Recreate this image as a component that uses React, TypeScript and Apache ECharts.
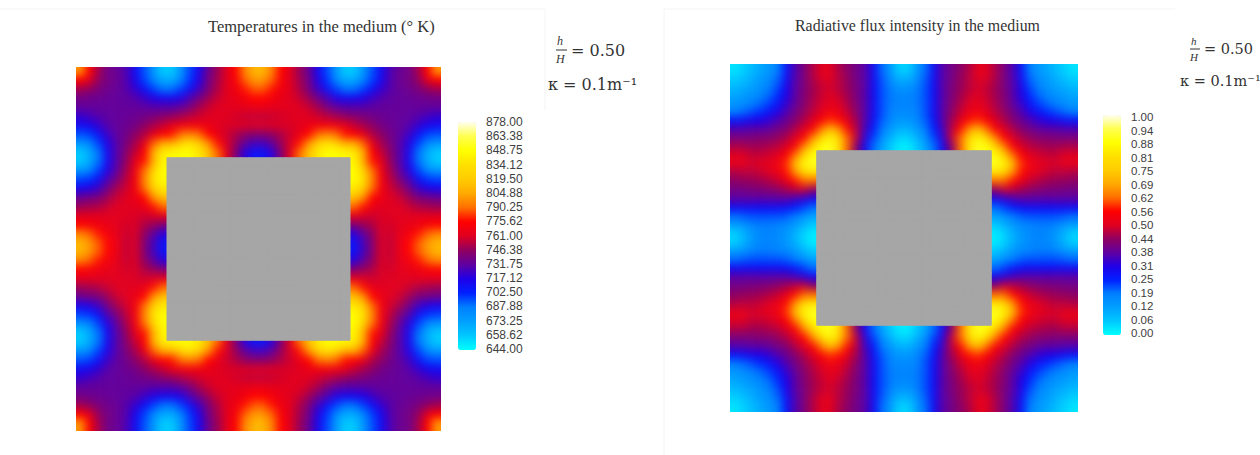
import React, { useEffect, useRef } from "react";
import * as echarts from "echarts";

// Upper-left quadrant of each field. Rows 10-19 stop at the obstacle.
const tempQuadrant: number[][] = [
  [800,775,750,737,735,728,712,695,678,658,658,678,697,715,735,748,762,775,795,810],
  [775,762,746,738,735,729,715,698,684,670,670,684,700,718,738,750,762,772,788,800],
  [750,746,740,736,734,730,722,710,698,690,690,698,710,725,740,752,762,768,778,787],
  [737,736,735,734,733,732,730,724,718,714,714,718,728,738,749,757,762,765,770,775],
  [733,733,733,733,733,733,733,732,730,730,730,733,740,750,757,761,762,763,764,766],
  [722,726,730,732,733,734,735,737,740,743,746,750,754,758,761,762,761,759,757,756],
  [712,715,722,730,733,735,738,745,750,756,764,768,770,769,766,762,760,760,760,760],
  [695,698,710,724,732,737,745,752,765,775,778,790,795,790,776,766,758,752,746,743],
  [678,684,698,718,730,740,750,765,788,808,808,825,835,822,800,778,760,748,733,726],
  [658,670,690,714,730,743,756,775,808,840,845,848,848,838,815,790,764,742,720,708],
  [658,670,690,714,730,746,764,778,808,845],
  [678,684,698,718,733,750,768,790,825,848],
  [697,700,710,728,740,754,770,795,835,848],
  [715,718,725,738,750,758,769,790,822,838],
  [735,738,740,749,757,761,766,776,800,815],
  [748,750,752,757,761,762,762,766,778,790],
  [762,762,762,762,762,761,760,758,760,764],
  [775,772,768,765,763,759,760,752,748,742],
  [795,788,778,770,764,757,760,746,733,720],
  [810,800,787,775,766,756,760,743,726,708],
];
const fluxQuadrant: number[][] = [
  [.03,.05,.08,.11,.14,.18,.27,.36,.41,.46,.50,.51,.46,.43,.40,.37,.29,.20,.13,.05],
  [.05,.07,.10,.13,.16,.20,.28,.36,.41,.46,.50,.51,.47,.44,.40,.37,.29,.21,.15,.09],
  [.08,.10,.12,.15,.18,.22,.30,.37,.41,.45,.48,.49,.47,.44,.41,.37,.29,.22,.18,.14],
  [.11,.13,.15,.17,.20,.24,.31,.37,.42,.45,.48,.50,.48,.45,.41,.37,.29,.22,.19,.17],
  [.14,.16,.18,.20,.23,.27,.33,.38,.42,.46,.49,.51,.50,.46,.42,.37,.29,.22,.19,.18],
  [.18,.20,.22,.24,.27,.31,.36,.40,.44,.47,.51,.53,.52,.48,.43,.37,.29,.22,.18,.17],
  [.27,.28,.30,.31,.33,.36,.39,.42,.46,.50,.55,.59,.57,.51,.45,.37,.28,.21,.17,.14],
  [.36,.36,.37,.37,.38,.40,.42,.46,.50,.55,.63,.72,.66,.57,.47,.35,.26,.19,.14,.10],
  [.41,.41,.41,.42,.42,.44,.46,.50,.56,.65,.78,.85,.78,.62,.48,.33,.23,.16,.10,.05],
  [.46,.46,.45,.45,.46,.47,.50,.55,.65,.78,.88,.90,.82,.62,.43,.30,.20,.12,.06,.02],
  [.50,.50,.48,.48,.49,.51,.55,.63,.78,.88],
  [.51,.51,.49,.50,.51,.53,.59,.72,.85,.90],
  [.46,.47,.47,.48,.50,.52,.57,.66,.78,.82],
  [.43,.44,.44,.45,.46,.48,.51,.57,.62,.62],
  [.40,.40,.41,.41,.42,.43,.45,.47,.48,.43],
  [.37,.37,.37,.37,.37,.37,.37,.35,.33,.30],
  [.29,.29,.29,.29,.29,.29,.28,.26,.23,.20],
  [.20,.21,.22,.22,.22,.22,.21,.19,.16,.12],
  [.13,.15,.18,.19,.19,.18,.17,.14,.10,.06],
  [.05,.09,.14,.17,.18,.17,.14,.10,.05,.02],
];
const tempTicks = ["644.00","658.62","673.25","687.88","702.50","717.12","731.75","746.38","761.00","775.62","790.25","804.88","819.50","834.12","848.75","863.38","878.00"];
const fluxTicks = ["0.00","0.06","0.12","0.19","0.25","0.31","0.38","0.44","0.50","0.56","0.62","0.69","0.75","0.81","0.88","0.94","1.00"];
const ramp = ["#00ffff","#00c8ff","#00a0ff","#0080ff","#0020ff","#2000e8","#6000a0","#900060","#e00020","#ff0000","#ff7000","#ffaa00","#ffcc00","#ffe000","#ffff00","#ffff50","#fffff0"];

const CELLS = 40;
const PAD = 3; // cells repeated past each edge so that the soft layer stays solid up to the plot's edge
const ids = (n: number) => Array.from({ length: n }, (_, i) => String(i));

function fieldCells(q: number[][]) {
  const out: number[][] = [];
  for (let r = -PAD; r < CELLS + PAD; r++) {
    for (let c = -PAD; c < CELLS + PAD; c++) {
      const a = Math.max(0, Math.min(r, CELLS - 1));
      const b = Math.max(0, Math.min(c, CELLS - 1));
      let qr = a < 20 ? a : 39 - a;
      let qc = b < 20 ? b : 39 - b;
      if (q[qr][qc] === undefined) { if (qc >= qr) qr = 9; else qc = 9; }
      out.push([c + PAD, r + PAD, q[qr][qc]]);
    }
  }
  return out;
}
function holeCells(q: number[][]) {
  const out: number[][] = [];
  for (let r = 0; r < CELLS; r++) {
    for (let c = 0; c < CELLS; c++) {
      if (q[r < 20 ? r : 39 - r][c < 20 ? c : 39 - c] === undefined) out.push([c, r, 1]);
    }
  }
  return out;
}

const serif = "'Liberation Serif', serif";
const mathFont = "'DejaVu Serif', serif";
const holeStyle = { borderColor: "#a6a6a6", borderWidth: 1 };

export default function App() {
  const softRef = useRef<HTMLDivElement>(null);
  const topRef = useRef<HTMLDivElement>(null);
  useEffect(() => {
    document.body.style.margin = "0";
    const soft = echarts.init(softRef.current!, undefined, { renderer: "svg" });
    const top = echarts.init(topRef.current!, undefined, { renderer: "svg" });
    const cat = (gridIndex: number, n: number, inverse = false) => ({
      type: "category" as const, gridIndex, data: ids(n), show: false, inverse,
    });
    const padded = (left: number, topPx: number, w: number, h: number) => {
      const cw = w / CELLS, ch = h / CELLS;
      return { left: left - PAD * cw, top: topPx - PAD * ch, width: cw * (CELLS + 2 * PAD), height: ch * (CELLS + 2 * PAD) };
    };
    const N = CELLS + 2 * PAD;
    soft.setOption({
      animation: false,
      grid: [padded(76, 67, 365, 364), padded(730, 64, 348, 348)],
      xAxis: [cat(0, N), cat(1, N)],
      yAxis: [cat(0, N, true), cat(1, N, true)],
      visualMap: [
        { type: "continuous", seriesIndex: 0, min: 644, max: 878, show: false, inRange: { color: ramp } },
        { type: "continuous", seriesIndex: 1, min: 0, max: 1, show: false, inRange: { color: ramp } },
      ],
      series: [
        { type: "heatmap", xAxisIndex: 0, yAxisIndex: 0, data: fieldCells(tempQuadrant) },
        { type: "heatmap", xAxisIndex: 1, yAxisIndex: 1, data: fieldCells(fluxQuadrant) },
      ],
    });
    const tickAxis = (gridIndex: number, data: string[], fontSize: number) => ({
      type: "category" as const, gridIndex, data, position: "right" as const, boundaryGap: false,
      axisLine: { show: false }, axisTick: { show: false }, splitLine: { show: false },
      axisLabel: { interval: 0, margin: 10, fontSize, color: "#404040", fontFamily: "'Liberation Sans', Arial, sans-serif" },
    });
    const note = (x: number, y: number, text: string, fontSize = 15, font = mathFont, fontStyle = "normal") => ({
      type: "text", x, y, style: { text, fontSize, fontFamily: font, fontStyle, fill: "#333", textVerticalAlign: "middle" },
    });
    top.setOption({
      animation: false,
      title: [
        { text: "Temperatures in the medium (° K)", left: 208, top: 18, padding: 0, textStyle: { fontFamily: serif, fontWeight: "normal", fontSize: 16.5, color: "#333" } },
        { text: "Radiative flux intensity in the medium", left: 795, top: 17, padding: 0, textStyle: { fontFamily: serif, fontWeight: "normal", fontSize: 15.9, color: "#333" } },
      ],
      grid: [
        { left: 76, top: 67, width: 365, height: 364 },
        { left: 730, top: 64, width: 348, height: 348 },
        { left: 458, top: 122, width: 18, height: 227 },
        { left: 1103, top: 117, width: 18, height: 216 },
      ],
      xAxis: [cat(0, CELLS), cat(1, CELLS), { type: "value", gridIndex: 2, show: false }, { type: "value", gridIndex: 3, show: false }],
      yAxis: [cat(0, CELLS, true), cat(1, CELLS, true), tickAxis(2, tempTicks, 12), tickAxis(3, fluxTicks, 11.5)],
      visualMap: [
        { type: "continuous", seriesIndex: [], min: 644, max: 878, left: 458, top: 122, itemWidth: 18, itemHeight: 228, padding: 0, calculable: false, inRange: { color: ramp } },
        { type: "continuous", seriesIndex: [], min: 0, max: 1, left: 1103, top: 115, itemWidth: 18, itemHeight: 220, padding: 0, calculable: false, inRange: { color: ramp } },
        { type: "continuous", seriesIndex: [0, 1], min: 0, max: 1, show: false, inRange: { color: ["#a6a6a6", "#a6a6a6"] } },
      ],
      series: [
        { type: "heatmap", xAxisIndex: 0, yAxisIndex: 0, data: holeCells(tempQuadrant), itemStyle: holeStyle },
        { type: "heatmap", xAxisIndex: 1, yAxisIndex: 1, data: holeCells(fluxQuadrant), itemStyle: holeStyle },
      ],
      graphic: [
        { type: "line", shape: { x1: 0, y1: 9, x2: 545, y2: 9 }, style: { stroke: "#f4f4f4", lineWidth: 1 } },
        { type: "line", shape: { x1: 545, y1: 9, x2: 545, y2: 110 }, style: { stroke: "#f4f4f4", lineWidth: 1 } },
        { type: "line", shape: { x1: 664, y1: 9, x2: 1175, y2: 9 }, style: { stroke: "#f4f4f4", lineWidth: 1 } },
        { type: "line", shape: { x1: 664, y1: 9, x2: 664, y2: 455 }, style: { stroke: "#f4f4f4", lineWidth: 1 } },
        note(557, 41, "h", 12, serif, "italic"),
        { type: "line", shape: { x1: 556, y1: 50, x2: 567, y2: 50 }, style: { stroke: "#333", lineWidth: 1 } },
        note(556, 59, "H", 12, serif, "italic"),
        note(571, 50, "= 0.50", 16),
        note(548, 84, "κ = 0.1m⁻¹", 16),
        note(1191, 41, "h", 11, serif, "italic"),
        { type: "line", shape: { x1: 1190, y1: 49, x2: 1200, y2: 49 }, style: { stroke: "#333", lineWidth: 1 } },
        note(1190, 57, "H", 11, serif, "italic"),
        note(1204, 49, "= 0.50", 14.5),
        note(1180, 81, "κ = 0.1m⁻¹", 14.5),
      ],
    });
    return () => { soft.dispose(); top.dispose(); };
  }, []);
  return (
    <div style={{ position: "relative", width: 1260, height: 455, background: "#fff", overflow: "hidden" }}>
      <div style={{ position: "absolute", inset: 0, clipPath: "path('M76 67h365v364h-365z M730 64h348v348h-348z')" }}>
        <div ref={softRef} style={{ width: 1260, height: 455, filter: "blur(4px)" }} />
      </div>
      <div ref={topRef} style={{ position: "absolute", left: 0, top: 0, width: 1260, height: 455 }} />
    </div>
  );
}
